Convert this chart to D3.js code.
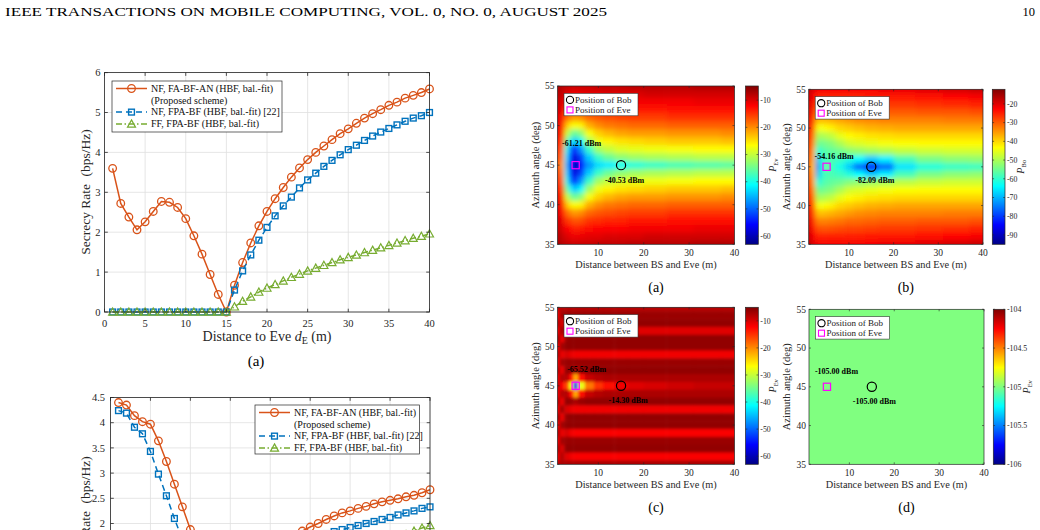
<!DOCTYPE html>
<html>
<head>
<meta charset="utf-8">
<script src="https://cdn.jsdelivr.net/npm/d3@7"></script>
<style>
  body { margin: 0; background: #fff; }
  svg { display: block; font-family: "Liberation Serif", "Times New Roman", serif; }
</style>
</head>
<body>
<svg id="page" width="1040" height="530"></svg>
<script>
"use strict";

//eve distance samples of the secrecy-rate curves (m)
var eveDist = [1, 2, 3, 4, 5, 6, 7, 8, 9, 10, 11, 12, 13, 14, 15, 16, 17, 18, 19, 20,
  21, 22, 23, 24, 25, 26, 27, 28, 29, 30, 31, 32, 33, 34, 35, 36, 37, 38, 39, 40];

//top plot (a)
var topProposed = [3.60, 2.72, 2.38, 2.06, 2.26, 2.52, 2.77, 2.75, 2.62, 2.34, 1.91, 1.45, 0.94, 0.44, 0.00,
  0.67, 1.24, 1.73, 2.16, 2.52, 2.84, 3.12, 3.38, 3.61, 3.82, 4.00, 4.16, 4.32, 4.47, 4.59,
  4.73, 4.86, 4.97, 5.07, 5.18, 5.26, 5.36, 5.43, 5.50, 5.59];
var topFpa = [0, 0, 0, 0, 0, 0, 0, 0, 0, 0, 0, 0, 0, 0, 0,
  0.55, 1.03, 1.43, 1.80, 2.12, 2.41, 2.66, 2.88, 3.11, 3.31, 3.48, 3.65, 3.80, 3.94, 4.07,
  4.18, 4.30, 4.41, 4.51, 4.60, 4.69, 4.78, 4.86, 4.92, 5.00];
var topFf = [0, 0, 0, 0, 0, 0, 0, 0, 0, 0, 0, 0, 0, 0, 0,
  0.13, 0.27, 0.38, 0.50, 0.60, 0.69, 0.78, 0.87, 0.95, 1.03, 1.10, 1.17, 1.24, 1.31, 1.37,
  1.43, 1.49, 1.55, 1.61, 1.67, 1.73, 1.79, 1.85, 1.90, 1.96];

//bottom plot (cut by the page)
var botProposed = [4.40, 4.35, 4.14, 4.02, 3.97, 3.64, 3.23, 2.78, 2.33, 1.88, 1.45, 1.05, 0.70, 0.38, 0.10,
  0.40, 0.70, 0.95, 1.17, 1.37, 1.53, 1.66, 1.77, 1.85, 1.93, 2.00, 2.08, 2.15, 2.21, 2.25,
  2.30, 2.34, 2.39, 2.43, 2.46, 2.49, 2.53, 2.56, 2.61, 2.67];
var botFpa = [4.24, 4.19, 3.91, 3.78, 3.43, 2.98, 2.55, 2.10, 1.68, 1.28, 0.92, 0.60, 0.32, 0.10, 0.00,
  0.25, 0.50, 0.72, 0.92, 1.10, 1.25, 1.38, 1.49, 1.59, 1.67, 1.74, 1.80, 1.84, 1.88, 1.92,
  1.96, 2.00, 2.04, 2.08, 2.12, 2.17, 2.21, 2.25, 2.30, 2.33];
var botFf = [0, 0, 0, 0, 0, 0, 0, 0, 0, 0, 0, 0, 0, 0, 0,
  0.12, 0.25, 0.36, 0.47, 0.57, 0.67, 0.76, 0.85, 0.93, 1.01, 1.08, 1.15, 1.22, 1.29, 1.35,
  1.41, 1.47, 1.53, 1.59, 1.65, 1.71, 1.78, 1.85, 1.91, 1.96];

var rateXTicks = [0, 5, 10, 15, 20, 25, 30, 35, 40];
var topYTicks = [0, 1, 2, 3, 4, 5, 6];
var botYTicks = [0, 0.5, 1, 1.5, 2, 2.5, 3, 3.5, 4, 4.5];

var seriesNames = ["NF, FA-BF-AN (HBF, bal.-fit)", "NF, FPA-BF (HBF, bal.-fit) [22]", "FF, FPA-BF (HBF, bal.-fit)"];

//power maps: columns = distance (m), rows = azimuth (deg), top row first
var mapDist = [1, 2, 3, 4, 5, 6, 8, 10, 12, 15, 18, 22, 28, 34, 40];
var mapAngle = [55, 54, 53, 52, 51, 50, 49, 48, 47, 46, 45, 44, 43, 42, 41, 40, 39, 38, 37, 36, 35];

var powerEveNF = [
  [-7, -8, -8.5, -9, -9, -9, -9, -8.5, -8.5, -8.5, -8, -8, -8, -7.5, -7.5],
  [-7.5, -9, -10, -11, -11, -11, -10.5, -10.5, -10, -10, -10, -9.5, -9.5, -9.5, -9.5],
  [-8.5, -10, -12, -13, -14, -13.5, -12.5, -12, -12, -12, -11.5, -11.5, -11.5, -11, -11],
  [-9, -11, -15, -16, -17, -16.5, -15, -14.5, -14, -14, -13.5, -13.5, -13, -13, -13],
  [-10, -12, -18, -20, -21, -20, -18, -17, -16.5, -16, -15.5, -15.5, -15, -15, -15],
  [-10.5, -13, -23, -26, -27, -26, -22, -20, -19, -18.5, -18, -18, -17.5, -17.5, -17.5],
  [-11, -14, -29, -34, -36, -33, -27, -24, -22.5, -21.5, -21, -21, -20.5, -20.5, -20],
  [-12, -16, -35, -42, -45, -41, -32, -27.5, -26, -25, -24.5, -24, -23.5, -23.5, -23],
  [-12.5, -18, -40, -50, -55, -47, -38, -32, -30, -28.5, -28, -27.5, -27, -26.5, -26.5],
  [-13, -20, -43, -54, -58, -52, -44, -38, -35, -33, -32, -31.5, -31, -30.5, -30.5],
  [-14, -22, -45, -56, -61, -55, -47, -43, -42, -40.5, -39, -38, -37, -36.5, -36],
  [-13, -20, -43, -54, -58, -52, -44, -38, -35, -33, -32, -31.5, -31, -30.5, -30.5],
  [-12.5, -18, -40, -50, -55, -47, -38, -32, -30, -28.5, -28, -27.5, -27, -26.5, -26.5],
  [-12, -16, -35, -42, -45, -41, -32, -27.5, -26, -25, -24.5, -24, -23.5, -23.5, -23],
  [-11, -14, -29, -34, -36, -33, -27, -24, -22.5, -21.5, -21, -21, -20.5, -20.5, -20],
  [-10.5, -13, -23, -26, -27, -26, -22, -20, -19, -18.5, -18, -18, -17.5, -17.5, -17.5],
  [-10, -12, -18, -20, -21, -20, -18, -17, -16.5, -16, -15.5, -15.5, -15, -15, -15],
  [-9, -11, -15, -16, -17, -16.5, -15, -14.5, -14, -14, -13.5, -13.5, -13, -13, -13],
  [-8.5, -10, -12, -13, -14, -13.5, -12.5, -12, -12, -12, -11.5, -11.5, -11.5, -11, -11],
  [-7.5, -9, -10, -11, -11, -11, -10.5, -10.5, -10, -10, -10, -9.5, -9.5, -9.5, -9.5],
  [-7, -8, -8.5, -9, -9, -9, -9, -8.5, -8.5, -8.5, -8, -8, -8, -7.5, -7.5]
];

var powerBobNF = [
  [-17, -20, -22, -22, -22, -22, -22, -22, -22, -22, -21, -21, -20, -19, -18],
  [-18, -22, -25, -25, -25, -25, -25, -25, -25, -24.5, -24, -24, -23.5, -23, -22],
  [-19, -24, -29, -29, -29, -29, -28.5, -28, -28, -27.5, -27, -27, -26.5, -26, -25.5],
  [-20, -26, -33, -33, -33, -32.5, -32, -31, -31, -30.5, -30, -30, -29.5, -29.5, -29],
  [-21, -28, -38, -38, -37.5, -37, -36, -35, -34, -33.5, -33, -33, -33, -32.5, -32.5],
  [-22, -30, -44, -44, -43, -42, -40, -39, -38, -37, -36.5, -36, -36, -36, -36],
  [-23, -32, -50, -50, -49, -48, -45, -43, -42, -41, -40.5, -40, -40, -40, -40],
  [-24, -34, -55, -55, -54, -53, -50, -47, -46, -45, -44, -43.5, -43, -43, -43],
  [-25, -36, -62, -58, -57, -56, -55, -53, -52, -51, -50, -48.5, -47.5, -47, -47],
  [-26, -38, -70, -60, -58, -58, -59, -61, -64, -68, -65, -58, -54, -52.5, -52],
  [-27, -40, -75, -62, -54, -59, -62, -68, -76, -82, -76, -66, -61, -59.5, -59],
  [-26, -38, -70, -60, -58, -58, -59, -61, -64, -68, -65, -58, -54, -52.5, -52],
  [-25, -36, -62, -58, -57, -56, -55, -53, -52, -51, -50, -48.5, -47.5, -47, -47],
  [-24, -34, -55, -55, -54, -53, -50, -47, -46, -45, -44, -43.5, -43, -43, -43],
  [-23, -32, -50, -50, -49, -48, -45, -43, -42, -41, -40.5, -40, -40, -40, -40],
  [-22, -30, -44, -44, -43, -42, -40, -39, -38, -37, -36.5, -36, -36, -36, -36],
  [-21, -28, -38, -38, -37.5, -37, -36, -35, -34, -33.5, -33, -33, -33, -32.5, -32.5],
  [-20, -26, -33, -33, -33, -32.5, -32, -31, -31, -30.5, -30, -30, -29.5, -29.5, -29],
  [-19, -24, -29, -29, -29, -29, -28.5, -28, -28, -27.5, -27, -27, -26.5, -26, -25.5],
  [-18, -22, -25, -25, -25, -25, -25, -25, -25, -24.5, -24, -24, -23.5, -23, -22],
  [-17, -20, -22, -22, -22, -22, -22, -22, -22, -22, -21, -21, -20, -19, -18]
];

var powerEveAlt = [
  [-9, -8, -8, -8, -8, -8, -8, -8, -8, -8, -8, -8, -8, -8, -8],
  [-11, -7, -6.5, -6.5, -6.5, -6.5, -6.5, -6.5, -6.5, -6.5, -6.5, -6.5, -6.5, -6.5, -6.5],
  [-8, -10, -6, -6, -6, -6, -6, -6, -6, -6, -6, -6, -6, -6, -6],
  [-11, -7, -9.5, -10, -10.5, -10.5, -10.5, -10.5, -10.5, -10.5, -10.5, -10.5, -10.5, -10.5, -10.5],
  [-7, -11, -6.5, -6, -6, -6, -6, -6, -6, -6, -6, -6, -6, -6, -6],
  [-11, -7, -6, -6, -6, -6, -6, -6, -6, -6, -6, -6, -6, -6, -6],
  [-8, -11, -10, -11, -11.5, -11.5, -11.5, -11.5, -11.5, -11.5, -11.5, -11.5, -11.5, -11.5, -11.5],
  [-11, -7, -6.5, -6.5, -6.5, -6.5, -6.5, -6.5, -6.5, -6.5, -6.5, -6.5, -6.5, -6.5, -6.5],
  [-8, -11, -6, -6.5, -7.5, -6.5, -6, -6, -6, -6, -6, -6, -6, -6, -6],
  [-11, -8, -8, -13, -22, -13, -9, -8, -7.5, -7.5, -7.5, -7.5, -7.5, -7.5, -7.5],
  [-9, -12, -16, -28, -52, -28, -19, -15, -13, -11.5, -10.5, -10, -9.5, -9, -9],
  [-11, -8, -8, -13, -22, -13, -9, -8, -7.5, -7.5, -7.5, -7.5, -7.5, -7.5, -7.5],
  [-8, -11, -6, -6.5, -7.5, -6.5, -6, -6, -6, -6, -6, -6, -6, -6, -6],
  [-11, -7, -10, -11, -11.5, -11.5, -11.5, -11.5, -11.5, -11.5, -11.5, -11.5, -11.5, -11.5, -11.5],
  [-7, -11, -6.5, -6, -6, -6, -6, -6, -6, -6, -6, -6, -6, -6, -6],
  [-11, -7, -6, -6, -6, -6, -6, -6, -6, -6, -6, -6, -6, -6, -6],
  [-8, -11, -10, -11.5, -12, -12, -12, -12, -12, -12, -12, -12, -12, -12, -12],
  [-11, -7, -6.5, -6.5, -6.5, -6.5, -6.5, -6.5, -6.5, -6.5, -6.5, -6.5, -6.5, -6.5, -6.5],
  [-8, -10, -6, -6, -6, -6, -6, -6, -6, -6, -6, -6, -6, -6, -6],
  [-11, -8, -10.5, -11.5, -12, -12, -12, -12, -12, -12, -12, -12, -12, -12, -12],
  [-9, -7.5, -7.5, -7.5, -7.5, -7.5, -7.5, -7.5, -7.5, -7.5, -7.5, -7.5, -7.5, -7.5, -7.5]
];

//panel (d) is flat
var powerFlat = -105;

var bobPos = [15, 45];
var evePos = [5, 45];
var eveReadout = [-61.21, -54.16, -65.52, -105.00];
var bobReadout = [-40.53, -82.09, -14.30, -105.00];

var mapXTicks = [10, 20, 30, 40];
var mapYTicks = [35, 40, 45, 50, 55];

//matlab jet
var jetStops = [0, 0.125, 0.375, 0.625, 0.875, 1];
var jetColors = ["#000085", "#0000ff", "#00ffff", "#ffff00", "#ff0000", "#800000"];

var pageH = 530;
var ink = "#262626";
var svg = d3.select("#page");
svg.append("rect").attr("width", 1040).attr("height", pageH).attr("fill", "#fff");
var defs = svg.append("defs");

var grad = defs.append("linearGradient").attr("id", "jet")
  .attr("x1", 0).attr("y1", 1).attr("x2", 0).attr("y2", 0);
jetStops.forEach(function(t, i) {
  grad.append("stop").attr("offset", t).attr("stop-color", jetColors[i]);
});

//smoothing of the coarse cells
function addBlur(id, sd) {
  defs.append("filter").attr("id", id)
    .attr("x", "-10%").attr("y", "-10%").attr("width", "120%").attr("height", "120%")
    .append("feGaussianBlur").attr("stdDeviation", sd);
}
addBlur("soft", 2.4);
addBlur("sharp", 1.5);

//page header
svg.append("text").attr("x", 5).attr("y", 16).attr("font-size", 12.5)
  .attr("textLength", 602).attr("lengthAdjust", "spacingAndGlyphs")
  .text("IEEE TRANSACTIONS ON MOBILE COMPUTING, VOL. 0, NO. 0, AUGUST 2025");
svg.append("text").attr("x", 1035).attr("y", 16).attr("font-size", 12.5)
  .attr("text-anchor", "end").text("10");

var styles = [
  { color: "#D95319", dash: null, marker: "circle" },
  { color: "#0072BD", dash: "6,4", marker: "square" },
  { color: "#77AC30", dash: "6,2.5,1.5,2.5", marker: "triangle" }
];

function addMarkers(g, pts, st) {
  if (st.marker === "circle") {
    g.selectAll(null).data(pts).join("circle")
      .attr("cx", function(d) { return d[0]; })
      .attr("cy", function(d) { return d[1]; })
      .attr("r", 3.8).attr("fill", "none")
      .attr("stroke", st.color).attr("stroke-width", 1.3);
  } else if (st.marker === "square") {
    g.selectAll(null).data(pts).join("rect")
      .attr("x", function(d) { return d[0] - 2.9; })
      .attr("y", function(d) { return d[1] - 2.9; })
      .attr("width", 5.8).attr("height", 5.8).attr("fill", "none")
      .attr("stroke", st.color).attr("stroke-width", 1.4);
  } else {
    g.selectAll(null).data(pts).join("path")
      .attr("d", function(d) {
        return "M" + d[0] + "," + (d[1] - 4) + "L" + (d[0] + 4) + "," + (d[1] + 3.2) +
          "L" + (d[0] - 4) + "," + (d[1] + 3.2) + "Z";
      })
      .attr("fill", "none").attr("stroke", st.color).attr("stroke-width", 1.2);
  }
}

function onPage(v) {
  return v < pageH - 4;
}

function drawRatePlot(o) {
  var g = svg.append("g");
  var x = d3.scaleLinear().domain([0, 40]).range([o.left, o.right]);
  var y = d3.scaleLinear().domain(o.yDomain).range([o.bottom, o.top]);

  //grid
  g.selectAll(null).data(rateXTicks).join("line")
    .attr("x1", x).attr("x2", x).attr("y1", o.top).attr("y2", o.bottom)
    .attr("stroke", "#dfdfdf").attr("stroke-width", 0.8);
  g.selectAll(null).data(o.yTicks).join("line")
    .attr("x1", o.left).attr("x2", o.right).attr("y1", y).attr("y2", y)
    .attr("stroke", "#dfdfdf").attr("stroke-width", 0.8);

  //series
  o.series.forEach(function(vals, k) {
    var st = styles[k];
    var pts = vals.map(function(v, i) { return [x(eveDist[i]), y(v)]; });
    g.append("path").attr("d", d3.line()(pts)).attr("fill", "none")
      .attr("stroke", st.color).attr("stroke-width", 1.5)
      .attr("stroke-dasharray", st.dash);
    addMarkers(g, pts, st);
  });

  //box and ticks
  g.append("rect").attr("x", o.left).attr("y", o.top)
    .attr("width", o.right - o.left).attr("height", o.bottom - o.top)
    .attr("fill", "none").attr("stroke", ink).attr("stroke-width", 0.8);
  g.selectAll(null).data(rateXTicks).join("path")
    .attr("d", function(d) {
      return "M" + x(d) + "," + o.bottom + "v-3.3M" + x(d) + "," + o.top + "v3.3";
    })
    .attr("stroke", ink).attr("stroke-width", 0.8);
  g.selectAll(null).data(o.yTicks).join("path")
    .attr("d", function(d) {
      return "M" + o.left + "," + y(d) + "h3.3M" + o.right + "," + y(d) + "h-3.3";
    })
    .attr("stroke", ink).attr("stroke-width", 0.8);

  //labels that fall below the page are left out
  if (onPage(o.bottom + 15)) {
    g.selectAll(null).data(rateXTicks).join("text")
      .attr("x", x).attr("y", o.bottom + 15)
      .attr("text-anchor", "middle").attr("font-size", 10.5).attr("fill", ink)
      .text(function(d) { return d; });
  }
  g.selectAll(null).data(o.yTicks.filter(function(d) { return onPage(y(d)); })).join("text")
    .attr("x", o.left - o.yGap).attr("y", y).attr("dy", "0.35em")
    .attr("text-anchor", "end").attr("font-size", 10.5).attr("fill", ink)
    .text(function(d) { return d; });

  //axis titles
  var yt = g.append("text")
    .attr("transform", "translate(" + o.yTitleX + "," + o.yTitleY + ") rotate(-90)")
    .attr("text-anchor", "middle").attr("font-size", 13.5).attr("fill", ink);
  yt.append("tspan").text("Secrecy Rate ");
  yt.append("tspan").attr("dx", 4).text("(bps/Hz)");

  if (onPage(o.bottom + 29)) {
    var xt = g.append("text").attr("x", (o.left + o.right) / 2).attr("y", o.bottom + 29)
      .attr("text-anchor", "middle").attr("font-size", 14).attr("fill", ink);
    xt.append("tspan").text("Distance to Eve ");
    xt.append("tspan").attr("font-style", "italic").text("d");
    xt.append("tspan").attr("font-size", 10).attr("dy", 3).text("E");
    xt.append("tspan").attr("dy", -3).text(" (m)");
  }

  if (o.tag) {
    g.append("text").attr("x", (o.left + o.right) / 2 - 11).attr("y", o.bottom + 54)
      .attr("text-anchor", "middle").attr("font-size", 15).text(o.tag);
  }

  //legend
  var L = o.legend;
  var lg = g.append("g");
  lg.append("rect").attr("x", L.x).attr("y", L.y).attr("width", L.w).attr("height", L.h)
    .attr("fill", "#fff").attr("stroke", ink).attr("stroke-width", 0.7);
  var rows = [L.y + 7.5, L.y + 19.3 + 11.8, L.y + 19.3 + 23.6];
  styles.forEach(function(st, k) {
    var ry = rows[k];
    lg.append("line").attr("x1", L.x + 4).attr("x2", L.x + 35).attr("y1", ry).attr("y2", ry)
      .attr("stroke", st.color).attr("stroke-width", 1.5).attr("stroke-dasharray", st.dash);
    addMarkers(lg, [[L.x + 19.5, ry]], st);
    lg.append("text").attr("x", L.x + 39).attr("y", ry).attr("dy", "0.33em")
      .attr("font-size", 10).attr("fill", "#111").text(seriesNames[k]);
  });
  lg.append("text").attr("x", L.x + 39).attr("y", L.y + 19.3).attr("dy", "0.33em")
    .attr("font-size", 10).attr("fill", "#111").text("(Proposed scheme)");
}

drawRatePlot({
  left: 104.5, right: 429.5, top: 72.6, bottom: 312, yDomain: [0, 6], yTicks: topYTicks,
  yGap: 4, yTitleX: 89.5, yTitleY: 192, tag: "(a)",
  series: [topProposed, topFpa, topFf],
  legend: { x: 112, y: 81, w: 170, h: 51 }
});

drawRatePlot({
  left: 110.5, right: 430, top: 397.5, bottom: 624.3, yDomain: [0, 4.5], yTicks: botYTicks,
  yGap: 5.5, yTitleX: 89.5, yTitleY: 519, tag: null,
  series: [botProposed, botFpa, botFf],
  legend: { x: 255, y: 405, w: 164.5, h: 49 }
});

//power maps
var panels = [
  { tag: "(a)", grid: powerEveNF, lo: -63, hi: -4.8, ticks: [-60, -50, -40, -30, -20, -10], sub: "Ev",
    frame: [557.5, 86, 734.5, 244.3], cbar: [745.5, 758.3], labelX: 776, blur: "soft",
    eveOff: [-13.6, -19.5], bobOff: [-16, 17.5] },
  { tag: "(b)", grid: powerBobNF, lo: -95, hi: -12.2, ticks: [-90, -80, -70, -60, -50, -40, -30, -20], sub: "Bo",
    frame: [808.7, 89.3, 983, 244.3], cbar: [992.3, 1005], labelX: 1024, blur: "soft",
    eveOff: [-12, -8], bobOff: [-16, 16.5] },
  { tag: "(c)", grid: powerEveAlt, lo: -63, hi: -5, ticks: [-60, -50, -40, -30, -20, -10], sub: "Ev",
    frame: [557.5, 307.3, 734.5, 464.3], cbar: [745.5, 758.3], labelX: 776, blur: "sharp",
    eveOff: [-8.5, -14], bobOff: [-12.5, 17.5] },
  { tag: "(d)", grid: null, lo: -106, hi: -104, ticks: [-106, -105.5, -105, -104.5, -104], sub: "Ev",
    frame: [809, 309.3, 984, 464.3], cbar: [993.3, 1005], labelX: 1030, blur: null,
    eveOff: [-12, -13], bobOff: [-19, 17] }
];

function jetScale(lo, hi) {
  return d3.scaleLinear()
    .domain(jetStops.map(function(t) { return lo + t * (hi - lo); }))
    .range(jetColors).clamp(true);
}

//cell borders in px: midpoints, outer ones pushed past the frame for the blur
function cellEdges(px, pad) {
  var e = [px[0] - pad];
  for (var i = 1; i < px.length; i++) e.push((px[i - 1] + px[i]) / 2);
  e.push(px[px.length - 1] + pad);
  return e;
}

panels.forEach(function(p, idx) {
  var f = p.frame;
  var x = d3.scaleLinear().domain([1, 40]).range([f[0], f[2]]);
  var y = d3.scaleLinear().domain([35, 55]).range([f[3], f[1]]);
  var color = jetScale(p.lo, p.hi);
  var g = svg.append("g");

  var clipId = "clip" + idx;
  defs.append("clipPath").attr("id", clipId).append("rect")
    .attr("x", f[0]).attr("y", f[1]).attr("width", f[2] - f[0]).attr("height", f[3] - f[1]);

  if (p.grid) {
    var xe = cellEdges(mapDist.map(x), 10);
    var ye = cellEdges(mapAngle.map(y), 10);
    var cells = [];
    p.grid.forEach(function(row, i) {
      row.forEach(function(v, j) { cells.push({ i: i, j: j, v: v }); });
    });
    g.append("g").attr("clip-path", "url(#" + clipId + ")").attr("filter", "url(#" + p.blur + ")")
      .selectAll("rect").data(cells).join("rect")
      .attr("x", function(d) { return xe[d.j]; })
      .attr("y", function(d) { return ye[d.i]; })
      .attr("width", function(d) { return xe[d.j + 1] - xe[d.j] + 0.5; })
      .attr("height", function(d) { return ye[d.i + 1] - ye[d.i] + 0.5; })
      .attr("fill", function(d) { return color(d.v); });
  } else {
    g.append("rect").attr("x", f[0]).attr("y", f[1])
      .attr("width", f[2] - f[0]).attr("height", f[3] - f[1])
      .attr("fill", color(powerFlat));
  }

  //frame and ticks
  g.append("rect").attr("x", f[0]).attr("y", f[1]).attr("width", f[2] - f[0]).attr("height", f[3] - f[1])
    .attr("fill", "none").attr("stroke", ink).attr("stroke-width", 0.7);
  g.selectAll(null).data(mapXTicks).join("path")
    .attr("d", function(d) { return "M" + x(d) + "," + f[3] + "v-2M" + x(d) + "," + f[1] + "v2"; })
    .attr("stroke", ink).attr("stroke-width", 0.6);
  g.selectAll(null).data(mapYTicks).join("path")
    .attr("d", function(d) { return "M" + f[0] + "," + y(d) + "h2M" + f[2] + "," + y(d) + "h-2"; })
    .attr("stroke", ink).attr("stroke-width", 0.6);
  g.selectAll(null).data(mapXTicks).join("text")
    .attr("x", x).attr("y", f[3] + 12).attr("text-anchor", "middle")
    .attr("font-size", 9.5).attr("fill", ink).text(function(d) { return d; });
  g.selectAll(null).data(mapYTicks).join("text")
    .attr("x", f[0] - 3).attr("y", y).attr("dy", "0.35em").attr("text-anchor", "end")
    .attr("font-size", 9.5).attr("fill", ink).text(function(d) { return d; });

  g.append("text").attr("x", (f[0] + f[2]) / 2).attr("y", f[3] + 24)
    .attr("text-anchor", "middle").attr("font-size", 10.3).attr("fill", ink)
    .text("Distance between BS and Eve (m)");
  g.append("text")
    .attr("transform", "translate(" + (f[0] - 19) + "," + (f[1] + f[3]) / 2 + ") rotate(-90)")
    .attr("text-anchor", "middle").attr("font-size", 10.5).attr("fill", ink)
    .text("Azimuth angle (deg)");
  g.append("text").attr("x", (f[0] + f[2]) / 2 + 10).attr("y", f[3] + 48)
    .attr("text-anchor", "middle").attr("font-size", 14).text(p.tag);

  //bob, eve and readouts
  var bx = x(bobPos[0]), by = y(bobPos[1]);
  var ex = x(evePos[0]), ey = y(evePos[1]);
  g.append("circle").attr("cx", bx).attr("cy", by).attr("r", 4.6)
    .attr("fill", "none").attr("stroke", "#000").attr("stroke-width", 1.2);
  g.append("rect").attr("x", ex - 3.6).attr("y", ey - 3.6).attr("width", 7.2).attr("height", 7.2)
    .attr("fill", "none").attr("stroke", "#ff00ff").attr("stroke-width", 1.2);
  g.append("text").attr("x", ex + p.eveOff[0]).attr("y", ey + p.eveOff[1])
    .attr("font-size", 8).attr("font-weight", "bold").attr("fill", "#000")
    .text(eveReadout[idx].toFixed(2) + " dBm");
  g.append("text").attr("x", bx + p.bobOff[0]).attr("y", by + p.bobOff[1])
    .attr("font-size", 8).attr("font-weight", "bold").attr("fill", "#000")
    .text(bobReadout[idx].toFixed(2) + " dBm");

  //legend
  var lx = f[0] + 6.5, ly = f[1] + 7.3;
  g.append("rect").attr("x", lx).attr("y", ly).attr("width", 74).attr("height", 22.5)
    .attr("fill", "#fff").attr("stroke", "#333").attr("stroke-width", 0.6);
  g.append("circle").attr("cx", lx + 6).attr("cy", ly + 6.6).attr("r", 3.6)
    .attr("fill", "none").attr("stroke", "#000").attr("stroke-width", 1.1);
  g.append("rect").attr("x", lx + 3).attr("y", ly + 13.6).attr("width", 6).attr("height", 6)
    .attr("fill", "none").attr("stroke", "#ff00ff").attr("stroke-width", 1.1);
  g.append("text").attr("x", lx + 11).attr("y", ly + 6.6).attr("dy", "0.33em")
    .attr("font-size", 9).attr("fill", "#222").text("Position of Bob");
  g.append("text").attr("x", lx + 11).attr("y", ly + 16.6).attr("dy", "0.33em")
    .attr("font-size", 9).attr("fill", "#222").text("Position of Eve");

  //colorbar
  var c = p.cbar;
  var cy = d3.scaleLinear().domain([p.lo, p.hi]).range([f[3], f[1]]);
  g.append("rect").attr("x", c[0]).attr("y", f[1]).attr("width", c[1] - c[0]).attr("height", f[3] - f[1])
    .attr("fill", "url(#jet)").attr("stroke", ink).attr("stroke-width", 0.7);
  g.selectAll(null).data(p.ticks).join("path")
    .attr("d", function(d) { return "M" + c[0] + "," + cy(d) + "h1.8M" + c[1] + "," + cy(d) + "h-1.8"; })
    .attr("stroke", ink).attr("stroke-width", 0.6);
  g.selectAll(null).data(p.ticks).join("text")
    .attr("x", c[1] + 2).attr("y", cy).attr("dy", "0.35em")
    .attr("font-size", 7.8).attr("fill", ink).text(function(d) { return d; });
  var pl = g.append("text")
    .attr("transform", "translate(" + p.labelX + "," + (f[1] + f[3]) / 2 + ") rotate(-90)")
    .attr("text-anchor", "middle").attr("font-size", 10).attr("fill", ink);
  pl.append("tspan").attr("font-style", "italic").text("P");
  pl.append("tspan").attr("font-size", 6.5).attr("dy", 2).text(p.sub);
});
</script>
</body>
</html>
